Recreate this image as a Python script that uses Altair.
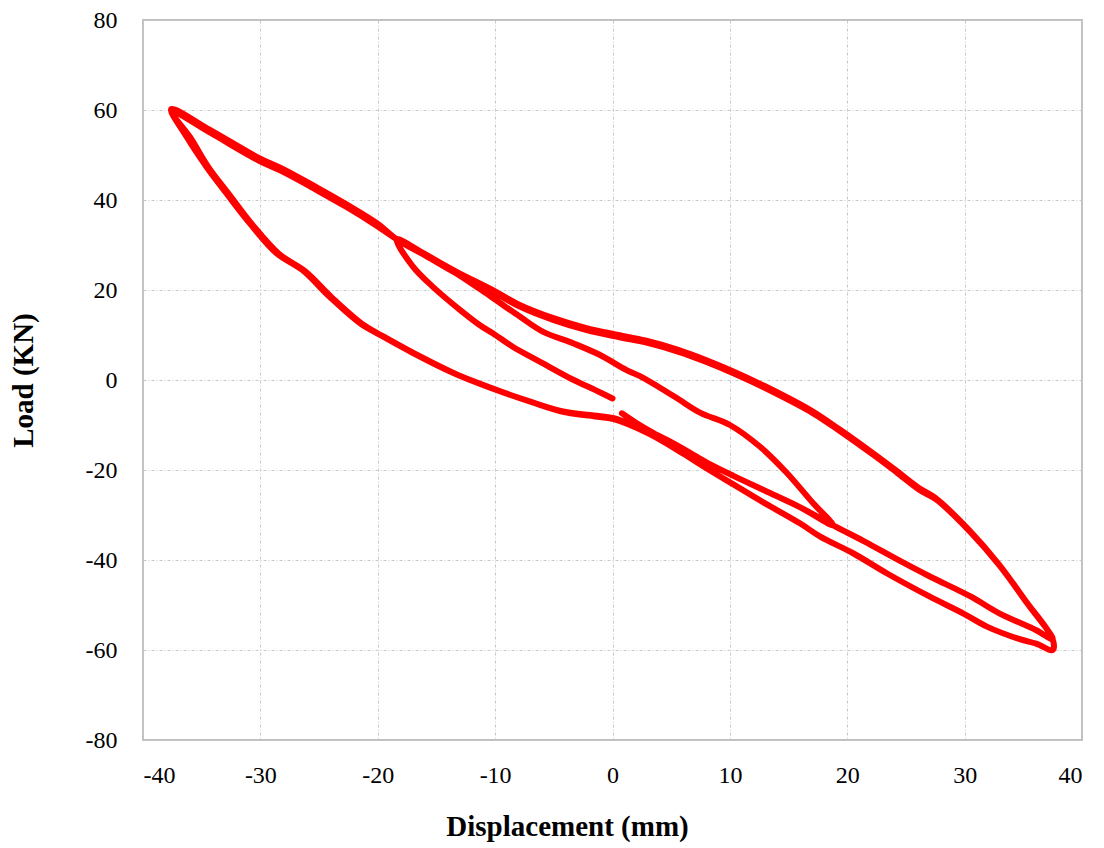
import altair as alt
import pandas as pd

# ---- data ----
# P1: start of test, along lower band to +18.8 mm
p1_x = [0.8, 2.0, 3.5, 5.0, 6.5, 8.0, 10.3, 13.0, 16.0, 18.8]
p1_y = [-7.4, -9.5, -11.8, -13.8, -16.0, -18.3, -21.3, -24.6, -28.3, -32.3]
# P2: thin branch back up to -18.4 mm
p2_x = [17.1, 14.8, 12.6, 10.0, 7.5, 5.7, 4.6, 2.3, 1.2, -1.1, -3.3, -5.9, -7.9, -10.4, -13.3, -15.9, -18.4]
p2_y = [-27.4, -20.5, -14.9, -10.0, -7.3, -4.4, -2.6, 0.9, 2.2, 5.6, 8.1, 10.7, 14.1, 18.6, 23.7, 27.6, 31.3]
# P3: upper band out to -37.6 mm
p3_x = [-20.1, -22.7, -25.2, -28.1, -30.1, -34.3, -37.6]
p3_y = [34.9, 39.1, 42.8, 46.9, 49.3, 55.6, 60.2]
# P4: unloading branch + lower band (upper line) to +37.5 mm
p4_x = [-36.3, -34.6, -32.9, -30.9, -28.6, -26.4, -24.1, -21.5, -19.8, -17.0, -13.6, -9.9, -7.0, -4.2, -1.6, 0.1,
        3.0, 6.0, 8.0, 10.3, 13.0, 16.0, 18.8, 21.4, 24.5, 27.0, 30.5, 33.0, 36.1, 37.5]
p4_y = [54.1, 47.4, 41.5, 34.8, 28.1, 24.4, 18.5, 12.6, 10.0, 6.0, 1.6, -2.2, -4.8, -7.0, -7.9, -8.5,
        -11.5, -15.6, -18.4, -21.3, -24.6, -28.3, -32.3, -35.8, -40.2, -43.6, -48.1, -51.9, -55.6, -57.6]
# P5: upper band back to -37.6 mm
p5_x = [35.3, 33.0, 30.5, 27.6, 26.2, 24.2, 22.2, 19.4, 17.1, 13.1, 10.3, 8.0, 5.7, 2.9, 0.6, -2.2, -5.0, -7.9,
        -9.9, -13.3, -15.9, -18.4, -20.1, -22.7, -25.2, -28.1, -30.1, -34.3, -37.6]
p5_y = [-49.5, -41.3, -33.8, -26.6, -24.5, -20.5, -16.6, -11.4, -7.4, -1.9, 1.5, 4.0, 6.2, 8.3, 9.5, 11.1, 13.3, 16.3,
        19.2, 23.7, 27.6, 31.3, 34.3, 38.5, 42.2, 46.3, 48.7, 55.0, 59.8]
# P6: unloading branch + lower band (lower line) to +37.5 mm
p6_x = [-36.0, -34.4, -32.7, -30.7, -28.4, -26.2, -23.9, -21.3, -19.6, -16.8, -13.4, -9.7, -6.8, -4.0, -1.5, 0.1,
        3.0, 6.0, 8.0, 10.3, 13.0, 16.0, 17.7, 20.5, 23.4, 27.0, 29.9, 31.9, 34.7, 36.1, 37.5]
p6_y = [54.0, 47.2, 41.4, 34.6, 28.0, 24.2, 18.3, 12.4, 9.8, 5.8, 1.4, -2.4, -5.0, -7.2, -8.1, -8.7,
        -11.8, -16.3, -19.6, -23.2, -27.4, -31.9, -34.8, -38.5, -43.0, -48.1, -51.9, -54.8, -57.6, -58.6, -60.0]
# P7: upper band back to -18.4 mm
p7_x = [37.5, 35.2, 32.9, 30.4, 27.5, 26.1, 24.1, 22.1, 19.3, 17.0, 13.0, 10.2, 7.9, 5.6, 2.8, 0.5, -2.3, -5.1,
        -8.0, -10.0, -13.4, -16.0, -18.4]
p7_y = [-57.6, -49.1, -40.9, -33.4, -26.2, -24.0, -20.0, -16.1, -10.9, -6.9, -1.4, 2.0, 4.5, 6.7, 8.8, 10.0, 11.6, 13.8,
        16.8, 19.7, 24.2, 28.0, 31.3]
# P8: final thin return to zero displacement
p8_x = [-17.0, -15.3, -13.0, -11.2, -10.2, -8.5, -6.2, -3.3, -1.5, 0.0]
p8_y = [25.2, 20.7, 15.6, 12.0, 10.4, 7.4, 4.1, 0.0, -2.2, -4.1]

x_ticks = [-40, -30, -20, -10, 0, 10, 20, 30, 40]
y_ticks = [-80, -60, -40, -20, 0, 20, 40, 60, 80]

xs = p1_x + p2_x + p3_x + p4_x + p5_x + p6_x + p7_x + p8_x
ys = p1_y + p2_y + p3_y + p4_y + p5_y + p6_y + p7_y + p8_y
df = pd.DataFrame({"disp": xs, "load": ys, "idx": list(range(len(xs)))})

FONT = "Liberation Serif"
grid_color = "#C8C8C8"
grid_dash = [3, 2, 1, 2]

x_axis = alt.Axis(
    values=x_ticks, title="Displacement (mm)", titleFont=FONT, titleFontSize=29,
    titleFontWeight="bold", titleColor="black", titleX=424, titleY=95,
    titleBaseline="alphabetic", titleAnchor="start", titleAlign="center",
    labelFont=FONT, labelFontSize=24, labelColor="black", labelBaseline="middle",
    labelPadding=35, labelExpr="'' + datum.value",
    ticks=False, tickSize=0, domain=False,
    grid=True, gridColor=grid_color, gridDash=grid_dash, gridWidth=1,
)
y_axis = alt.Axis(
    values=y_ticks, title="Load (KN)", titleFont=FONT, titleFontSize=29,
    titleFontWeight="bold", titleColor="black", titleX=-105,
    labelFont=FONT, labelFontSize=24, labelColor="black",
    labelPadding=26, labelExpr="'' + datum.value",
    ticks=False, tickSize=0, domain=False,
    grid=True, gridColor=grid_color, gridDash=grid_dash, gridWidth=1,
)

chart = alt.Chart(df).mark_line(
    color="#FF0000", strokeWidth=6, strokeCap="round", strokeJoin="round",
    interpolate="catmull-rom",
).encode(
    x=alt.X("disp:Q", scale=alt.Scale(domain=[-40, 40], nice=False, zero=False), axis=x_axis),
    y=alt.Y("load:Q", scale=alt.Scale(domain=[-80, 80], nice=False, zero=False), axis=y_axis),
    order=alt.Order("idx:Q"),
).properties(
    width=939, height=720,
    autosize=alt.AutoSizeParams(type="none"),
    padding={"left": 135, "top": 12, "right": 14, "bottom": 110},
    background="white",
).configure_view(stroke="#BFBFBF", strokeWidth=2)

chart.save("out.html", embed_options={"renderer": "svg", "actions": False})
